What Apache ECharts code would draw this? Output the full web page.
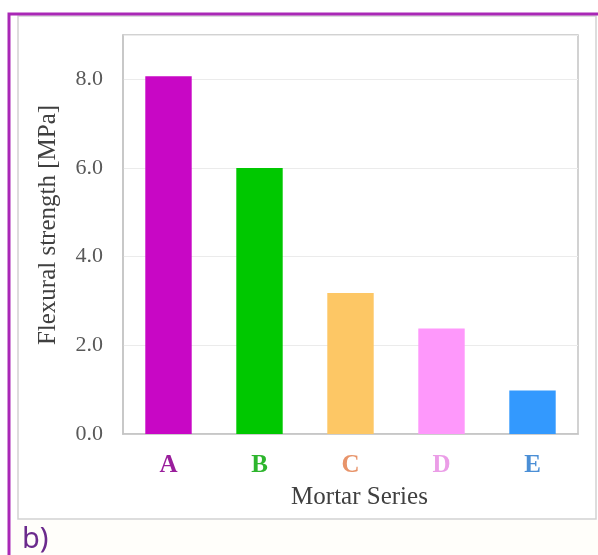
<!DOCTYPE html>
<html>
<head>
<meta charset="utf-8">
<script src="https://cdn.jsdelivr.net/npm/echarts@6/dist/echarts.min.js"></script>
<style>
  html, body { margin: 0; padding: 0; background: #ffffff; }
  #chart { width: 598px; height: 555px; }
</style>
</head>
<body>
<div id="chart"></div>
<script>
// Mortar series and their flexural strength (MPa)
const categories = ['A', 'B', 'C', 'D', 'E'];
const strength = [8.07, 6.0, 3.18, 2.38, 0.98];
const barColors = ['#c807c5', '#00c800', '#fdc765', '#fe98fb', '#3399fe'];
const labelColors = ['#9a1e9c', '#2db52d', '#e8946a', '#eb9de7', '#4b8fd6'];
const yTicks = [0, 2, 4, 6, 8];

const serif = '"Liberation Serif", "Times New Roman", serif';

const chart = echarts.init(document.getElementById('chart'), null, { renderer: 'canvas' });

chart.setOption({
  animation: false,
  backgroundColor: '#ffffff',
  grid: {
    left: 123, right: 20, top: 35, bottom: 121,
    show: true, borderColor: '#c4c4c4', borderWidth: 1.5, backgroundColor: 'transparent'
  },
  xAxis: {
    type: 'category',
    data: categories.map((c, i) => ({
      value: c,
      textStyle: { color: labelColors[i] }
    })),
    axisLine: { show: true, lineStyle: { color: '#c4c4c4', width: 1.5 } },
    axisTick: { show: false },
    axisLabel: {
      margin: 19,
      fontFamily: serif,
      fontSize: 25,
      fontWeight: 'bold'
    },
    name: 'Mortar Series',
    nameLocation: 'middle',
    nameGap: 51,
    nameTextStyle: {
      fontFamily: serif, fontSize: 25, color: '#404040',
      padding: [0, 0, 0, 18]
    }
  },
  yAxis: {
    type: 'value',
    min: 0, max: 9, interval: 2,
    axisLine: { show: true, lineStyle: { color: '#c4c4c4', width: 1.5 } },
    axisTick: { show: false },
    splitLine: { show: true, lineStyle: { color: '#ebebeb', width: 1 } },
    axisLabel: {
      margin: 20,
      fontFamily: serif,
      fontSize: 22,
      color: '#595959',
      formatter: v => yTicks.includes(v) ? v.toFixed(1) : ''
    },
    name: 'Flexural strength [MPa]',
    nameLocation: 'middle',
    nameGap: 62,
    nameTextStyle: {
      fontFamily: serif, fontSize: 25, color: '#404040',
      padding: [0, 0, 0, 19]
    }
  },
  series: [{
    type: 'bar',
    data: strength.map((v, i) => ({ value: v, itemStyle: { color: barColors[i] } })),
    barWidth: '51%'
  }],
  graphic: [
    // pale strip under the figure frame
    { type: 'rect', shape: { x: 11, y: 520, width: 590, height: 40 },
      style: { fill: '#fffefa' }, silent: true, z: -10 },
    // figure frame
    { type: 'rect', shape: { x: 18, y: 16, width: 578, height: 503 },
      style: { fill: 'none', stroke: '#d2d2d2', lineWidth: 1.5 }, silent: true },
    // purple panel border (top and left edges)
    { type: 'polyline', shape: { points: [[9, 560], [9, 14], [600, 14]] },
      style: { fill: 'none', stroke: '#a928b6', lineWidth: 3 }, silent: true },
    // panel tag
    { type: 'text', left: 22, top: 525,
      style: { text: 'b)', fontFamily: '"Noto Sans", "Liberation Sans", sans-serif',
               fontSize: 29, fill: '#6b2a8c' }, silent: true }
  ]
});
</script>
</body>
</html>
